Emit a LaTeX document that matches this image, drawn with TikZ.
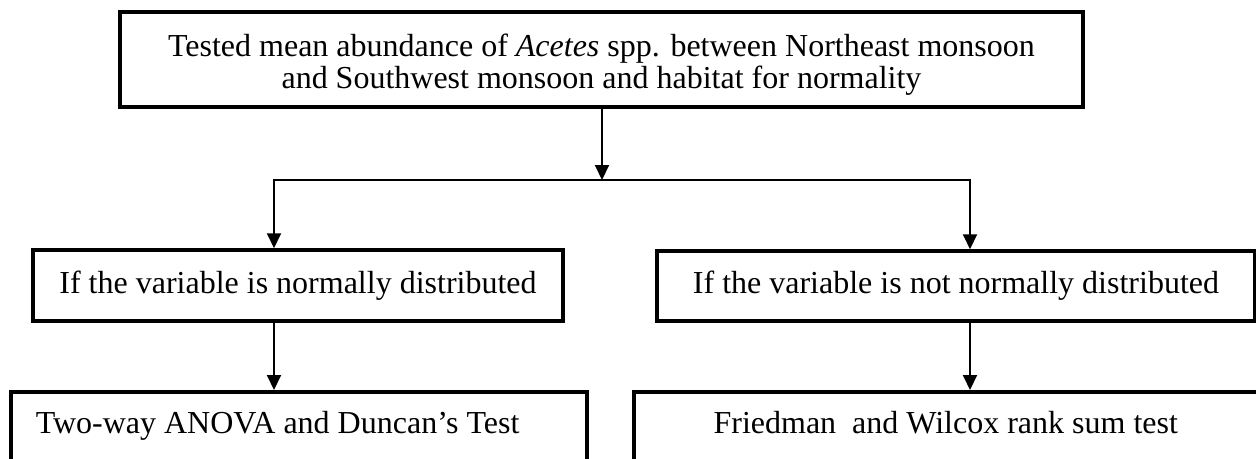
\documentclass[tikz,border=0pt]{standalone}
\usepackage{fontspec}
\setmainfont{Liberation Serif}
\usetikzlibrary{arrows.meta}
\begin{document}
\begin{tikzpicture}[x=1pt,y=-1pt,line cap=rect]
\tikzset{boxnode/.style={draw, line width=3.5pt, inner sep=0pt, align=center, font=\fontsize{32pt}{32pt}\selectfont},
  flowline/.style={line width=2pt},
  flowarrow/.style={line width=2pt, -{Triangle[length=15pt,width=14pt]}}}
\useasboundingbox (0,0) rectangle (1256,458);
\clip (0,0) rectangle (1256,458);
\node[boxnode, minimum width=963pt, minimum height=95pt] (tested) at (601.5,59.5) {\rule{0pt}{33pt}Tested mean abundance of \textit{Acetes} spp. between Northeast monsoon\\and Southwest monsoon and habitat for normality};
\node[boxnode, minimum width=530pt, minimum height=71pt] (normal) at (298.0,285.5) {If the variable is normally distributed};
\node[boxnode, minimum width=598pt, minimum height=70pt] (notnormal) at (956.0,286.0) {If the variable is not normally distributed};
\node[boxnode, anchor=north west, inner xsep=25pt, text width=526pt, align=flush left, text height=42pt, text depth=60pt] (anova) at (9.0,390.0) {Two-way ANOVA and Duncan’s Test};
\node[boxnode, anchor=north west, inner xsep=25pt, text width=574pt, align=flush center, text height=42pt, text depth=60pt] (friedman) at (632.0,390.0) {Friedman\ \ and Wilcox rank sum test};
\coordinate (split) at (602.0,180.0);
\coordinate (splitL) at (274.0,180.0);
\coordinate (splitR) at (970.0,180.0);
\draw[flowarrow] (tested.south -| split) -- (split);
\draw[flowline] (splitL) -- (splitR);
\draw[flowarrow] (splitL) -- (normal.north -| splitL);
\draw[flowarrow] (splitR) -- (notnormal.north -| splitR);
\draw[flowarrow] (normal.south -| splitL) -- (anova.north -| splitL);
\draw[flowarrow] (notnormal.south -| splitR) -- (friedman.north -| splitR);
\end{tikzpicture}
\end{document}
